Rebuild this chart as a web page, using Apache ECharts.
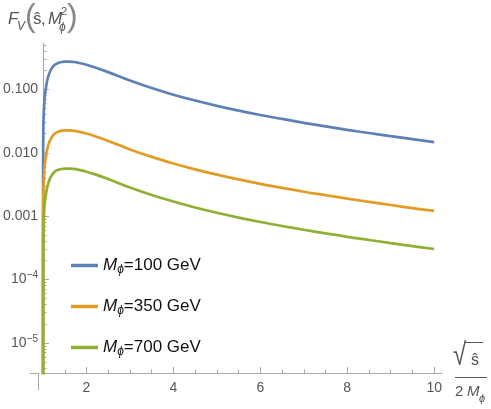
<!DOCTYPE html>
<html>
<head>
<meta charset="utf-8">
<script src="https://cdn.jsdelivr.net/npm/echarts@6/dist/echarts.min.js"></script>
<style>
  html, body { margin: 0; padding: 0; background: #fff; }
  #chart { width: 491px; height: 409px; }
</style>
</head>
<body>
<div id="chart"></div>
<script>
// sqrt(s)/(2 M) values
var xs = [1.0, 1.002, 1.008, 1.02, 1.04, 1.07, 1.11, 1.17, 1.25, 1.35, 1.5, 1.6, 1.7, 1.8, 2.0, 2.2, 2.5, 3.0, 3.5, 4.0, 4.5, 5.0, 5.5, 6.0, 6.5, 7.0, 7.5, 8.0, 8.5, 9.0, 9.5, 10.0];
// F_V, one array per mass
var m100 = [1e-9, 0.008, 0.025, 0.048, 0.078, 0.11, 0.152, 0.197, 0.238, 0.262, 0.274, 0.2748, 0.271, 0.264, 0.245, 0.222, 0.1875, 0.138, 0.1052, 0.0826, 0.0667, 0.0551, 0.0463, 0.0395, 0.0342, 0.0297, 0.0261, 0.023, 0.0205, 0.0183, 0.0164, 0.01476];
var m350 = [1e-9, 0.00066, 0.00205, 0.0039, 0.0064, 0.009, 0.0125, 0.0161, 0.0195, 0.0215, 0.0225, 0.02253, 0.0222, 0.02164, 0.0201, 0.0182, 0.01537, 0.0113, 0.00862, 0.00677, 0.00547, 0.00452, 0.0038, 0.00324, 0.0028, 0.00243, 0.00214, 0.00189, 0.00168, 0.0015, 0.00134, 0.00121];
var m700 = [1e-9, 0.00016, 0.00051, 0.00099, 0.0016, 0.00226, 0.00312, 0.00405, 0.00489, 0.00538, 0.00563, 0.00564, 0.00556, 0.00542, 0.00503, 0.00456, 0.00385, 0.00283, 0.00216, 0.0017, 0.00137, 0.00113, 0.00095, 0.00081, 0.0007, 0.00061, 0.000536, 0.000472, 0.000421, 0.000376, 0.000337, 0.000303];
var masses = [100, 350, 700];
var colors = ['#5e81b5', '#e19c24', '#8fb032'];

var xMajor = [2, 4, 6, 8, 10];
var xMinor = [1.5, 2.5, 3, 3.5, 4.5, 5, 5.5, 6.5, 7, 7.5, 8.5, 9, 9.5];
var yMajor = [1e-5, 1e-4, 1e-3, 1e-2, 1e-1];
var yMinor = [4e-6, 5e-6, 6e-6, 7e-6, 8e-6, 9e-6,
  2e-5, 3e-5, 4e-5, 5e-5, 6e-5, 7e-5, 8e-5, 9e-5,
  2e-4, 3e-4, 4e-4, 5e-4, 6e-4, 7e-4, 8e-4, 9e-4,
  2e-3, 3e-3, 4e-3, 5e-3, 6e-3, 7e-3, 8e-3, 9e-3,
  2e-2, 3e-2, 4e-2, 5e-2, 6e-2, 7e-2, 8e-2, 9e-2,
  2e-1, 3e-1, 4e-1, 5e-1];

var axisColor = '#a8a8a8';
var labelColor = '#555';
var fam = '"Liberation Sans", Arial, sans-serif';

function pairs(vals) {
  return xs.map(function (x, i) { return [x, vals[i]]; });
}

function fmtY(v) {
  if (v >= 0.0009) return v.toFixed(3);
  var e = Math.round(Math.log10(v));
  return '10{sup|\u2212' + (-e) + '}';
}

var chart = echarts.init(document.getElementById('chart'));

var series = [m100, m350, m700].map(function (vals, i) {
  return {
    name: 'M\u03d5=' + masses[i] + ' GeV',
    type: 'line',
    data: pairs(vals),
    showSymbol: false,
    smooth: 0.4,
    clip: true,
    lineStyle: { width: 2.7, color: colors[i] },
    itemStyle: { color: colors[i] }
  };
});

var xMin = 1, xMax = 10.18, yMin = 3.35e-6, yMax = 0.54;

var option = {
  animation: false,
  grid: { left: 38, right: 49, top: 43, bottom: 36 },
  legend: {
    orient: 'vertical',
    left: 66,
    top: 250,
    itemGap: 20,
    icon: 'rect',
    itemWidth: 27,
    itemHeight: 3.5,
    data: series.map(function (s) { return s.name; }),
    formatter: function (name) {
      return '{i|M}{s|\u03d5}{t|' + name.slice(2) + '}';
    },
    textStyle: {
      color: '#111',
      fontFamily: fam,
      fontSize: 17,
      lineHeight: 21,
      rich: {
        i: { fontFamily: fam, fontStyle: 'italic', fontSize: 17, color: '#111' },
        s: { fontFamily: fam, fontStyle: 'italic', fontSize: 12, color: '#111', padding: [9, 0, 0, 0] },
        t: { fontFamily: fam, fontSize: 17, color: '#111' }
      }
    }
  },
  xAxis: [{
    type: 'value',
    min: xMin, max: xMax,
    axisLine: { onZero: false, lineStyle: { color: axisColor, width: 1 } },
    axisTick: { inside: true, length: 6, customValues: xMajor, lineStyle: { color: axisColor } },
    axisLabel: { customValues: xMajor, color: labelColor, fontFamily: fam, fontSize: 14, margin: 8 },
    splitLine: { show: false }
  }, {
    type: 'value',
    min: xMin, max: xMax,
    position: 'bottom',
    axisLine: { show: false, onZero: false },
    axisTick: { inside: true, length: 3.5, customValues: xMinor, lineStyle: { color: axisColor } },
    axisLabel: { show: false },
    splitLine: { show: false }
  }],
  yAxis: [{
    type: 'log',
    logBase: 10,
    min: yMin, max: yMax,
    axisLine: { show: true, onZero: false, lineStyle: { color: axisColor, width: 1 } },
    axisTick: { show: true, inside: true, length: 6, customValues: yMajor, lineStyle: { color: axisColor } },
    axisLabel: {
      customValues: yMajor,
      formatter: fmtY,
      color: labelColor,
      fontFamily: fam,
      fontSize: 14,
      margin: 5,
      rich: {
        sup: { fontFamily: fam, fontSize: 10, color: labelColor, padding: [0, 0, 8, 0] }
      }
    },
    splitLine: { show: false }
  }, {
    type: 'log',
    logBase: 10,
    min: yMin, max: yMax,
    position: 'left',
    axisLine: { show: false, onZero: false },
    axisTick: { show: true, inside: true, length: 3.5, customValues: yMinor, lineStyle: { color: axisColor } },
    axisLabel: { show: false },
    splitLine: { show: false }
  }],
  series: series,
  graphic: [
    // little overhang of the axes past the origin
    { type: 'line', shape: { x1: 30, y1: 373.5, x2: 38, y2: 373.5 }, style: { stroke: axisColor, lineWidth: 1 } },
    { type: 'line', shape: { x1: 38.5, y1: 373, x2: 38.5, y2: 390 }, style: { stroke: axisColor, lineWidth: 1 } },
    // y axis title  F_V(ŝ, M_ϕ^2)
    { type: 'text', x: 8, y: 19, style: { text: 'F', font: 'italic 17px ' + fam, fill: labelColor, verticalAlign: 'middle' } },
    { type: 'text', x: 17, y: 27, style: { text: 'V', font: 'italic 12px ' + fam, fill: labelColor, verticalAlign: 'middle' } },
    { type: 'text', x: 25, y: 17, style: { text: '(', font: '32px ' + fam, fill: '#888', verticalAlign: 'middle' } },
    { type: 'text', x: 33, y: 19, style: { text: '\u015d', font: '17px ' + fam, fill: labelColor, verticalAlign: 'middle' } },
    { type: 'text', x: 41, y: 19, style: { text: ',', font: '17px ' + fam, fill: labelColor, verticalAlign: 'middle' } },
    { type: 'text', x: 48, y: 19, style: { text: 'M', font: 'italic 17px ' + fam, fill: labelColor, verticalAlign: 'middle' } },
    { type: 'text', x: 61, y: 12, style: { text: '2', font: '11px ' + fam, fill: labelColor, verticalAlign: 'middle' } },
    { type: 'text', x: 59, y: 28, style: { text: '\u03d5', font: 'italic 12px ' + fam, fill: labelColor, verticalAlign: 'middle' } },
    { type: 'text', x: 67, y: 17, style: { text: ')', font: '32px ' + fam, fill: '#888', verticalAlign: 'middle' } },
    // x axis title  sqrt(ŝ) / (2 M_ϕ)
    { type: 'text', x: 453, y: 356, scaleY: 1.3, style: { text: '\u221a', font: '24px ' + fam, fill: labelColor, verticalAlign: 'middle' } },
    { type: 'line', shape: { x1: 465, y1: 342.5, x2: 483, y2: 342.5 }, style: { stroke: labelColor, lineWidth: 1 } },
    { type: 'text', x: 475, y: 361, style: { text: '\u015d', font: '16px ' + fam, fill: labelColor, align: 'center', verticalAlign: 'middle' } },
    { type: 'line', shape: { x1: 455, y1: 377.5, x2: 487, y2: 377.5 }, style: { stroke: labelColor, lineWidth: 1 } },
    { type: 'text', x: 455, y: 392, style: { text: '2', font: '15px ' + fam, fill: labelColor, verticalAlign: 'middle' } },
    { type: 'text', x: 467, y: 392, style: { text: 'M', font: 'italic 15px ' + fam, fill: labelColor, verticalAlign: 'middle' } },
    { type: 'text', x: 479, y: 399, style: { text: '\u03d5', font: 'italic 11px ' + fam, fill: labelColor, verticalAlign: 'middle' } }
  ]
};

chart.setOption(option);
</script>
</body>
</html>
